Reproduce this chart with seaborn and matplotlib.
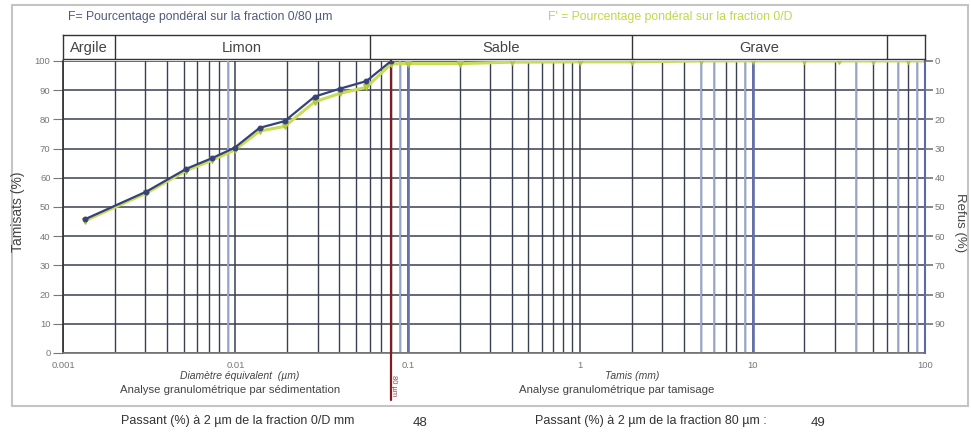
import numpy as np
import pandas as pd
import matplotlib
matplotlib.use("Agg")
import matplotlib.pyplot as plt
from matplotlib.ticker import LogLocator, FixedLocator, NullFormatter
import seaborn as sns

# ---------------- data ----------------
sed_sizes = [0.00134, 0.00305, 0.0052, 0.0073, 0.0099, 0.0138, 0.0193, 0.0288, 0.0403, 0.0575, 0.08]
F_passing = [45.8, 55.3, 63.1, 66.7, 70.3, 77.1, 79.4, 87.8, 90.5, 93.1, 100.0]

fp_sizes = [0.00134, 0.00305, 0.0052, 0.0073, 0.0099, 0.0138, 0.0193, 0.0288, 0.0403, 0.0575,
            0.08, 0.1, 0.2, 0.4, 1, 2, 5, 10, 20, 31.5, 50, 80, 100]
Fp_passing = [45.3, 54.8, 62.5, 66.0, 69.5, 76.0, 77.6, 86.0, 88.9, 91.0,
              99.0, 99.1, 99.1, 99.6, 99.7, 99.7, 100.0, 100.0, 100.0, 100.0, 100.0, 100.0, 100.0]

classes = ["Argile", "Limon", "Sable", "Grave"]
class_bounds = [0.001, 0.002, 0.06, 2, 60]
x_ticks = [0.001, 0.01, 0.1, 1, 10, 100]
x_ticklabels = ["0.001", "0.01", "0.1", "1", "10", "100"]
y_ticks = list(range(0, 101, 10))
refus_ticks = list(range(0, 91, 10))

passant_0D = "48"
passant_80 = "49"

# ---------------- style ----------------
sns.set_theme(style="white")
plt.rcParams['font.family'] = ['Liberation Sans', 'DejaVu Sans']

W, H = 971, 432
fig = plt.figure(figsize=(W / 100, H / 100), dpi=100)

def fx(x):
    return x / W

def fy(y):
    return 1 - y / H

# frame
fig.patches.append(plt.Rectangle((fx(12), fy(406)), fx(956), (406 - 5) / H,
                                 transform=fig.transFigure, fill=False,
                                 edgecolor="#c4c4c4", lw=1.5))

L, R, T, B = 63, 925, 61, 353
ax = fig.add_axes([fx(L), fy(B), (R - L) / W, (B - T) / H])
ax.set_xscale("log")
ax.set_xlim(0.001, 100)
ax.set_ylim(0, 100)

dark = "#3a3f52"
ax.xaxis.set_major_locator(FixedLocator(x_ticks))
ax.xaxis.set_minor_locator(LogLocator(base=10, subs=np.arange(2, 10)))
ax.xaxis.set_minor_formatter(NullFormatter())
ax.set_xticklabels(x_ticklabels)
ax.set_yticks(y_ticks)
ax.grid(True, which="major", axis="both", color=dark, lw=1.1)
ax.grid(True, which="minor", axis="x", color=dark, lw=1.0)

# bluish highlighted lines
for v in [0.009, 0.09, 5, 6, 9, 40, 70, 90]:
    ax.axvline(v, color="#a3aed3", lw=1.3, zorder=1.5)
for v in [0.1, 10, 100]:
    ax.axvline(v, color="#6372ad", lw=1.9, zorder=1.5)

ax.spines["top"].set_visible(False)
ax.spines["left"].set_color("#333333")
ax.spines["bottom"].set_color("#777777")
ax.spines["right"].set_visible(False)
ax.tick_params(axis="both", which="both", direction="out", colors="#777777",
               labelcolor="#777777", labelsize=6.8, length=5, width=0.8)
ax.tick_params(axis="x", which="minor", length=4)
ax.tick_params(axis="x", pad=0.5)
ax.tick_params(axis="y", length=7, pad=2)

# red 80 µm line
ax.plot([0.08, 0.08], [-0.16, 1.01], transform=ax.get_xaxis_transform(),
        color="#7e1f1f", lw=1.6, clip_on=False, zorder=4)

df_f = pd.DataFrame({"size": sed_sizes, "passing": F_passing})
df_fp = pd.DataFrame({"size": fp_sizes, "passing": Fp_passing})

sns.lineplot(data=df_fp, x="size", y="passing", ax=ax, color="#c9dc55", lw=2.2,
             marker="v", markersize=4, markeredgecolor="#a9c23e",
             markerfacecolor="#b8cf48", zorder=5, sort=False)
sns.lineplot(data=df_f, x="size", y="passing", ax=ax, color="#35437a", lw=1.6,
             marker="o", markersize=3.5, markeredgecolor="#35437a", zorder=6, sort=False)
ax.set_xlabel("")
ax.set_ylabel("")

# right axis
ax2 = ax.twinx()
ax2.set_ylim(100, 0)
ax2.set_yticks(refus_ticks)
ax2.tick_params(axis="y", direction="out", colors="#777777", labelcolor="#777777",
                labelsize=6.8, length=6, pad=1)
for s in ["top", "left", "bottom"]:
    ax2.spines[s].set_visible(False)
ax2.spines["right"].set_color("#5b6aa6")
ax2.spines["right"].set_linewidth(1.5)
ax2.grid(False)

# header
hdr = fig.add_axes([fx(L), fy(59), (R - L) / W, (59 - 35) / H])
hdr.set_xscale("log")
hdr.set_xlim(0.001, 100)
hdr.set_ylim(0, 1)
hdr.set_xticks([])
hdr.set_yticks([])
hdr.minorticks_off()
for s in hdr.spines.values():
    s.set_color("#333333")
    s.set_linewidth(1.0)
for b in class_bounds[1:]:
    hdr.axvline(b, color="#333333", lw=1.0)
for name, a, b in zip(classes, class_bounds[:-1], class_bounds[1:]):
    hdr.text(np.sqrt(a * b), 0.45, name, ha="center", va="center",
             fontsize=10.5, color="#444444")

# legend texts
fig.text(fx(68), fy(17), "F= Pourcentage pondéral sur la fraction 0/80 µm",
         fontsize=8.8, color="#505a78", va="center", ha="left")
fig.text(fx(548), fy(17), "F' = Pourcentage pondéral sur la fraction 0/D",
         fontsize=8.8, color="#c3d64a", va="center", ha="left")

# axis labels
fig.text(fx(18), fy(212), "Tamisats (%)", rotation=90, fontsize=10,
         color="#444444", ha="center", va="center")
fig.text(fx(960), fy(223), "Refus (%)", rotation=270, fontsize=9.5,
         color="#444444", ha="center", va="center")

fig.text(fx(240), fy(376), "Diamètre équivalent  (µm)", fontsize=7.5,
         style="italic", color="#444444", ha="center", va="center")
fig.text(fx(230), fy(390), "Analyse granulométrique par sédimentation", fontsize=8.2,
         color="#444444", ha="center", va="center")
fig.text(fx(632), fy(376), "Tamis (mm)", fontsize=7.5, style="italic",
         color="#444444", ha="center", va="center")
fig.text(fx(617), fy(390), "Analyse granulométrique par tamisage", fontsize=8.2,
         color="#444444", ha="center", va="center")
fig.text(fx(393), fy(386), "80 µm", rotation=270, fontsize=5.5,
         color="#a04040", ha="center", va="center")

# bottom results
fig.text(fx(238), fy(421), "Passant (%) à 2 µm de la fraction 0/D mm", fontsize=9,
         color="#333333", ha="center", va="center")
fig.text(fx(420), fy(423), passant_0D, fontsize=9.5, color="#333333",
         ha="center", va="center")
fig.text(fx(651), fy(421), "Passant (%) à 2 µm de la fraction 80 µm :", fontsize=9,
         color="#333333", ha="center", va="center")
fig.text(fx(818), fy(423), passant_80, fontsize=9.5, color="#333333",
         ha="center", va="center")

fig.savefig("out.png", dpi=100)
